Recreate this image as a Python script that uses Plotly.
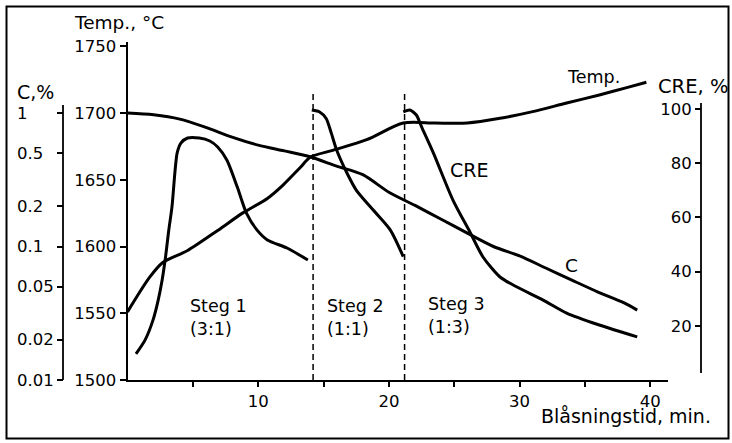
import math
import plotly.graph_objects as go

W, H = 732, 443

# ---------------- data ----------------
# Temperature, deg C
temp_t = [0, 1.7, 2.7, 4.6, 6.9, 8.8, 10.7, 11.9, 13.2, 14.0, 15.7, 18.3, 21.1, 23.5, 26.0, 28.5, 31.0, 33.6, 36.1, 38.2, 39.7]
temp_v = [1551, 1577, 1588, 1597, 1612, 1625, 1636, 1646, 1659, 1667, 1672, 1680, 1692.5, 1692.5, 1692.5, 1696, 1701, 1707.5, 1713.5, 1719, 1723]

# Carbon, % (log scale)
c_t = [0, 2, 4, 6, 8, 10, 12, 14, 16, 18, 20, 22, 24, 26, 28, 30, 32, 34, 36, 38, 39]
c_v = [1.0, 0.97, 0.90, 0.78, 0.66, 0.575, 0.52, 0.468, 0.40, 0.345, 0.255, 0.203, 0.16, 0.126, 0.10, 0.085, 0.069, 0.056, 0.0456, 0.0378, 0.0334]

# CRE, % - three blowing steps
cre1_t = [0.65, 1.35, 1.95, 2.35, 2.65, 2.9, 3.15, 3.4, 3.8, 4.1, 4.6, 5.5, 6.3, 6.9, 7.6, 8.4, 9.1, 9.9, 10.7, 12.2, 13.8]
cre1_v = [9.6, 14.8, 22.1, 29.5, 36.9, 45.0, 55.0, 63.8, 83.8, 87.5, 89.3, 89.3, 88.2, 86.0, 81.2, 71.2, 61.6, 55.4, 51.7, 48.7, 44.3]

cre2_t = [14.1, 14.7, 15.2, 15.6, 16.0, 16.8, 17.5, 18.8, 20.1, 21.1]
cre2_v = [99.6, 98.9, 96.5, 91.0, 84.9, 76.3, 70.1, 62.7, 55.4, 45.5]

cre3_t = [21.1, 21.6, 22.1, 22.5, 23.4, 24.9, 26.2, 27.2, 28.5, 29.8, 31.8, 33.6, 36.1, 39.0]
cre3_v = [98.9, 99.6, 97.8, 93.4, 83.8, 66.4, 54.6, 45.4, 38.0, 34.3, 29.5, 24.7, 20.3, 15.9]

step_bounds = [14.2, 21.2]
step_labels = ["Steg 1<br>(3:1)", "Steg 2<br>(1:1)", "Steg 3<br>(1:3)"]

x_ticks = [5, 10, 15, 20, 25, 30, 35, 40]
x_ticktext = ["", "10", "", "20", "", "30", "", "40"]
temp_ticks = [1500, 1550, 1600, 1650, 1700, 1750]
c_ticks = [0.01, 0.02, 0.05, 0.1, 0.2, 0.5, 1]
c_ticktext = ["0.01", "0.02", "0.05", "0.1", "0.2", "0.5", "1"]
cre_ticks = [20, 40, 60, 80, 100]

# ---------------- layout helpers ----------------
def fx(p):
    return p / W

def fy(p):
    return 1 - p / H

FONT = "DejaVu Sans, Liberation Sans, sans-serif"
FS = 16.5
X0, X1, YB, YT = 127.5, 668.0, 380.0, 42.0

line = dict(color="black", width=3)
fig = go.Figure()
fig.add_trace(go.Scatter(x=temp_t, y=temp_v, mode="lines", line=dict(shape="spline", smoothing=0.8, **line), yaxis="y"))
fig.add_trace(go.Scatter(x=c_t, y=c_v, mode="lines", line=dict(shape="spline", smoothing=0.8, **line), yaxis="y2"))
for tt, vv in [(cre1_t, cre1_v), (cre2_t, cre2_v), (cre3_t, cre3_v)]:
    fig.add_trace(go.Scatter(x=tt, y=vv, mode="lines", line=dict(shape="spline", smoothing=0.7, **line), yaxis="y3"))

shapes = []
for b in step_bounds:
    shapes.append(dict(type="line", xref="x", yref="paper", x0=b, x1=b, y0=fy(YB), y1=fy(94),
                       line=dict(color="black", width=1.5, dash="6px,4px")))
# C axis line and CRE axis line (shorter than plot height)
shapes.append(dict(type="line", xref="paper", yref="paper", x0=fx(63), x1=fx(63), y0=fy(380), y1=fy(105),
                   line=dict(color="black", width=1.8)))
shapes.append(dict(type="line", xref="paper", yref="paper", x0=fx(701), x1=fx(701), y0=fy(373), y1=fy(103),
                   line=dict(color="black", width=1.8)))
# frame
shapes.append(dict(type="rect", xref="paper", yref="paper", x0=fx(6.5), x1=fx(728.5), y0=fy(438.5), y1=fy(6.5),
                   line=dict(color="black", width=2)))

ann = []
def label(text, x, y, size=17.5, xanchor="left", yanchor="middle"):
    ann.append(dict(text=text, xref="paper", yref="paper", x=fx(x), y=fy(y), xanchor=xanchor, yanchor=yanchor,
                    showarrow=False, align="left", font=dict(family=FONT, size=size, color="black")))

for v, t in zip(c_ticks, c_ticktext):
    ann.append(dict(text=t, xref="paper", yref="y2", x=fx(15), y=math.log10(v), xanchor="left", yanchor="middle",
                    showarrow=False, font=dict(family=FONT, size=FS, color="black")))

label("Temp., °C", 72, 22, size=18.5)
label("C,%", 15, 92, size=19)
label("CRE, %", 656, 87, size=19.5)
label("Blåsningstid, min.", 539, 416, size=19)
label("Temp.", 565, 77)
label("CRE", 448, 170, size=19)
label("C", 563, 265, size=18.5)
label(step_labels[0], 188, 317)
label(step_labels[1], 325, 317)
label(step_labels[2], 426, 315)

tickfont = dict(family=FONT, size=FS, color="black")
fig.update_layout(
    width=W, height=H, margin=dict(l=0, r=0, t=0, b=0, autoexpand=False),
    paper_bgcolor="white", plot_bgcolor="white", showlegend=False,
    shapes=shapes, annotations=ann,
    xaxis=dict(domain=[fx(X0), fx(X1)], range=[0, (X1 - X0) / 13.07], showgrid=False, zeroline=False,
               automargin=False,
               showline=True, linecolor="black", linewidth=2, ticks="outside", ticklen=5, tickwidth=1.5,
               tickcolor="black", tickvals=x_ticks, ticktext=x_ticktext, tickfont=tickfont, anchor="y"),
    yaxis=dict(domain=[fy(YB), fy(YT)], range=[1500, 1500 + (YB - YT) / 1.335], showgrid=False, zeroline=False,
               automargin=False,
               showline=True, linecolor="black", linewidth=2, ticks="outside", ticklen=6, tickwidth=1.5,
               tickcolor="black", tickvals=temp_ticks, tickfont=tickfont, anchor="x"),
    yaxis2=dict(overlaying="y", type="log", range=[-2, -2 + (YB - YT) / 133.5], anchor="free", position=fx(63),
                automargin=False,
                side="left", showgrid=False, zeroline=False, showline=False, ticks="outside", ticklen=6,
                tickwidth=1.5, tickcolor="black", tickvals=c_ticks, showticklabels=False),
    yaxis3=dict(overlaying="y", range=[0, (YB - YT) / 2.71], anchor="free", position=fx(701), side="left",
                automargin=False,
                showgrid=False, zeroline=False, showline=False, ticks="outside", ticklen=6, tickwidth=1.5,
                tickcolor="black", tickvals=cre_ticks, tickfont=tickfont),
)

fig.write_html("out.html", config={"displayModeBar": False},
               post_script="document.body.style.margin='0';document.body.style.overflow='hidden';")
